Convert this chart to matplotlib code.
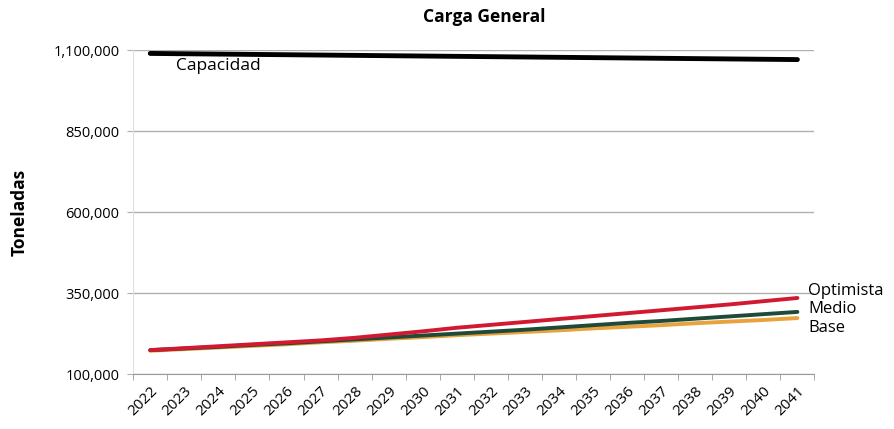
import matplotlib
matplotlib.use("Agg")
import matplotlib.pyplot as plt
import numpy as np
from matplotlib.ticker import FuncFormatter

plt.rcParams["font.family"] = ["Open Sans", "DejaVu Sans"]

years = [str(y) for y in range(2022, 2042)]
capacidad = [1090000, 1089000, 1088000, 1087000, 1086000, 1085000, 1084000, 1083000,
             1082000, 1081000, 1080000, 1079000, 1078000, 1077000, 1076000, 1075000,
             1074000, 1073000, 1072000, 1071000]
optimista = [174000, 180000, 186000, 192000, 198000, 204000, 212000, 222000, 232000, 243000,
             252000, 261000, 270000, 279000, 288000, 297000, 306000, 315000, 325000, 335000]
medio = [174000, 179000, 184000, 190000, 195000, 201000, 207000, 213000, 219000, 225000,
         231000, 237000, 244000, 251000, 258000, 264000, 271000, 278000, 285000, 292000]
base = [172000, 177000, 182000, 187000, 192000, 198000, 203000, 209000, 214000, 220000,
        225000, 230000, 235000, 241000, 246000, 251000, 257000, 262000, 267000, 273000]
yticks = [100000, 350000, 600000, 850000, 1100000]

fig = plt.figure(figsize=(8.94, 4.29), dpi=100)
ax = fig.add_axes([0.149, 0.128, 0.762, 0.755])

x = np.arange(len(years))
ax.plot(x, base, color="#e8a33c", lw=2.8, solid_capstyle="round")
ax.plot(x, medio, color="#1f4a3a", lw=2.8, solid_capstyle="round")
ax.plot(x, optimista, color="#d11a32", lw=2.8, solid_capstyle="round")
ax.plot(x, capacidad, color="black", lw=3.5, solid_capstyle="round")

ax.text(0.75, capacidad[0] - 15000, "Capacidad", fontsize=12.5, va="top", ha="left")
ax.text(len(years) - 0.68, optimista[-1] + 20000, "Optimista", fontsize=12, va="center")
ax.text(len(years) - 0.68, optimista[-1] - 35000, "Medio", fontsize=12, va="center")
ax.text(len(years) - 0.68, optimista[-1] - 92000, "Base", fontsize=12, va="center")

ax.set_xlim(-0.5, len(years) - 0.5)
ax.set_ylim(100000, 1100000)
ax.set_yticks(yticks)
ax.yaxis.set_major_formatter(FuncFormatter(lambda v, p: f"{int(v):,}"))
ax.grid(axis="y", color="#b0b0b0", lw=1)
ax.set_axisbelow(True)
ax.tick_params(axis="y", length=4, color="#b0b0b0", labelsize=10.5, pad=6)

ax.set_xticks(x)
ax.set_xticklabels(years, rotation=45, ha="right", rotation_mode="anchor", fontsize=11)
ax.set_xticks(np.arange(-0.5, len(years)), minor=True)
ax.tick_params(axis="x", which="major", length=0, pad=7)
ax.tick_params(axis="x", which="minor", length=4, color="#999999")

for s in ["top", "right"]:
    ax.spines[s].set_visible(False)
ax.spines["left"].set_color("#e0e0e0")
ax.spines["bottom"].set_color("#999999")

ax.set_ylabel("Toneladas", fontsize=12.5, fontweight="bold")
ax.yaxis.set_label_coords(-0.154, 0.5)
ax.set_title("Carga General", fontsize=12.5, fontweight="bold", pad=20, x=0.515)

fig.savefig("out.png", dpi=100)
